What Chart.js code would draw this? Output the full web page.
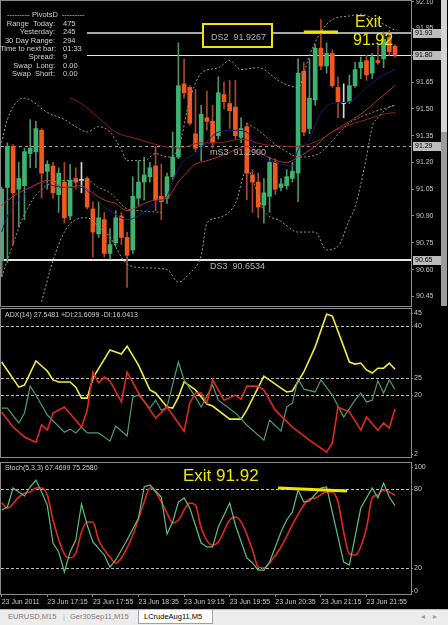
<!DOCTYPE html>
<html>
<head>
<meta charset="utf-8">
<script src="https://cdn.jsdelivr.net/npm/chart.js@4.4.1/dist/chart.umd.min.js"></script>
<style>
  body { margin: 0; background: #000; width: 448px; height: 625px; overflow: hidden; position: relative; font-family: "Liberation Sans", Arial, sans-serif; }
  canvas { position: absolute; left: 0; }
  .t { position: absolute; white-space: nowrap; color: #d2d2d2; font-size: 7.5px; line-height: 9px; }
  .lbl { position: absolute; white-space: nowrap; color: #b4b4b4; font-size: 9px; line-height: 11px; }
  .exit { position: absolute; white-space: nowrap; color: #f0e600; font-size: 16px; line-height: 18px; }
  .tab { position: absolute; top: 610px; font-size: 7.5px; line-height: 13px; color: #7a7a7a; white-space: nowrap; }
</style>
</head>
<body>
<canvas id="main" width="448" height="307" style="top:0"></canvas>
<canvas id="adx" width="448" height="151" style="top:307px"></canvas>
<canvas id="stoch" width="448" height="150" style="top:459px"></canvas>

<!-- scroll strip next to the price scale -->
<div style="position:absolute;left:441px;top:0;width:6px;height:306px;background:#9c9c9c"></div>
<div style="position:absolute;left:441px;top:0;width:6px;height:132px;background:#d4d4d4"></div>

<!-- PivotsD info block -->
<div style="position:absolute;left:1px;top:1px;width:86px;height:80px;background:#000"></div>
<div class="t" style="left:7px;top:10px">---------</div>
<div class="t" style="left:32px;top:10px">PivotsD</div>
<div class="t" style="left:62px;top:10px">---------</div>
<div class="t" style="left:0;width:55px;text-align:right;top:19px">Range&nbsp; Today:</div>
<div class="t" style="left:63px;top:19px">475</div>
<div class="t" style="left:0;width:55px;text-align:right;top:27px">Yesterday:</div>
<div class="t" style="left:63px;top:27px">245</div>
<div class="t" style="left:0;width:55px;text-align:right;top:36px">30 Day Range:</div>
<div class="t" style="left:63px;top:36px">294</div>
<div class="t" style="left:0;width:55px;text-align:right;top:44px">Time to next bar:</div>
<div class="t" style="left:63px;top:44px">01:33</div>
<div class="t" style="left:0;width:55px;text-align:right;top:52px">Spread:</div>
<div class="t" style="left:63px;top:52px">9</div>
<div class="t" style="left:0;width:55px;text-align:right;top:61px">Swap&nbsp; Long:</div>
<div class="t" style="left:63px;top:61px">0.00</div>
<div class="t" style="left:0;width:55px;text-align:right;top:69px">Swap&nbsp; Short:</div>
<div class="t" style="left:63px;top:69px">0.00</div>

<!-- pivot labels -->
<div style="position:absolute;left:202px;top:23px;width:71px;height:25px;box-sizing:border-box;border:2px solid #f0e600;background:#000"></div>
<div class="lbl" style="left:211px;top:32px">DS2&nbsp; 91.9267</div>
<div class="lbl" style="left:210px;top:147px">mS3&nbsp; 91.2900</div>
<div class="lbl" style="left:210px;top:261px">DS3&nbsp; 90.6534</div>

<div class="exit" style="left:355px;top:13px">Exit</div>
<div class="exit" style="left:353px;top:31px">91.92</div>

<div class="t" style="left:5px;top:310px;font-size:7px;color:#cfcfcf">ADX(14) 27.5481 +DI:21.6099 -DI:16.0413</div>
<div class="t" style="left:5px;top:463px;font-size:7px;color:#cfcfcf">Stoch(5,3,3) 67.4699 75.2580</div>
<div class="exit" style="left:183px;top:466px;font-size:17px;line-height:19px">Exit 91.92</div>

<!-- symbol tabs -->
<div style="position:absolute;left:0;top:609px;width:448px;height:16px;background:#ececec;border-top:1px solid #b8b8b8"></div>
<div class="tab" style="left:8px">EURUSD,M15</div>
<div class="tab" style="left:63px;color:#b0b0b0">|</div>
<div class="tab" style="left:70px">Ger30Sep11,M15</div>
<div style="position:absolute;left:138px;top:610px;width:75px;height:14px;background:#fff;border:1px solid #a0a0a0;border-top:none;box-sizing:border-box"></div>
<div class="tab" style="left:144px;color:#000">LCrudeAug11,M5</div>
<div class="tab" style="left:421px;color:#9a9a9a">&#9666;</div>
<div class="tab" style="left:433px;color:#9a9a9a">&#9656;</div>

<script>
// ---- price bars (M5, 16:35 .. 22:20) ----
const opens = [90.65,91.06,91.29,91.05,91.07,91.25,91.26,91.38,91.15,91.18, 91.02,91.09,90.90,91.11,91.10,91.11,90.94,90.80,90.88,90.69,
  90.75,90.90,90.78,90.71,91.00,91.09,91.12,91.18,91.01,91.00, 91.12,91.23,91.64,91.62,91.36,91.30,91.45,91.43,91.35,91.58,
  91.53,91.51,91.34,91.40,91.13,91.09,90.96,91.01,91.20,91.06, 91.07,91.11,91.14,91.71,91.39,91.55,91.84,91.74,91.81,91.62,
  91.53,91.54,91.63,91.73,91.77,91.70,91.77,91.78,91.90,91.85];
const highs = [91.06,91.31,91.30,91.20,91.28,91.44,91.43,91.39,91.21,91.20, 91.17,91.20,91.19,91.17,91.20,91.12,90.98,90.98,90.92,90.83,
  90.93,90.92,90.81,91.12,91.21,91.23,91.20,91.29,91.19,91.14, 91.37,91.87,91.78,91.63,91.61,91.52,91.60,91.52,91.68,91.65,
  91.66,91.66,91.45,91.42,91.16,91.14,91.11,91.23,91.22,91.11, 91.16,91.20,91.78,91.76,91.78,91.86,92.00,91.87,91.83,91.68,
  91.64,91.69,91.76,91.79,91.80,91.81,91.86,91.93,91.94,91.86];
const lows = [90.56,90.64,90.74,90.84,90.88,91.17,91.17,91.00,91.05,91.00, 90.92,90.86,90.88,91.05,91.03,90.94,90.67,90.78,90.67,90.66,
  90.73,90.74,90.50,90.69,90.96,90.99,91.09,90.93,90.88,90.97, 91.10,91.22,91.56,91.41,91.26,91.21,91.38,91.28,91.33,91.50,
  91.39,91.33,91.31,90.99,90.92,90.89,90.86,90.92,91.02,91.04, 91.05,91.09,90.98,91.35,91.36,91.52,91.72,91.70,91.62,91.45,
  91.45,91.53,91.62,91.67,91.66,91.67,91.75,91.73,91.80,91.79];
const closes = [91.05,91.29,91.03,91.11,91.26,91.28,91.39,91.14,91.19,91.03, 91.14,90.89,91.10,91.09,91.10,90.95,90.81,90.89,90.69,90.74,
  90.89,90.78,90.68,91.01,91.09,91.13,91.17,90.99,90.98,91.12, 91.23,91.63,91.59,91.42,91.28,91.47,91.43,91.31,91.59,91.54,
  91.49,91.35,91.39,91.14,91.09,90.95,91.03,91.20,91.05,91.08, 91.12,91.15,91.70,91.37,91.56,91.84,91.74,91.81,91.63,91.54,
  91.53,91.63,91.72,91.76,91.69,91.79,91.76,91.89,91.82,91.80];

// ---- moving averages / bands (bar index, price) ----
const fastMaBars = [0,1,3,5,7,9,11,14,16,18,19,22,25,27,29,30,32,34,35,38,41,43,45,48,51,52,54,56,58,61,64,67,69];
const fastMaVals = [90.81,90.90,90.99,91.05,91.09,91.07,91.06,91.06,91.01,90.95,90.93,90.88,90.92,90.98,91.01,91.10,91.21,91.25,91.28,91.37,
  91.38,91.37,91.25,91.20,91.18,91.27,91.33,91.48,91.53,91.54,91.62,91.69,91.72];
const midMaBars = [0,2,5,7,8,11,14,15,18,20,22,25,27,29,31,33,34,36,38,41,43,46,50,52,55,57,60,63,66,69];
const midMaVals = [90.96,91.01,91.06,91.09,91.10,91.06,91.07,91.05,90.99,90.97,90.93,90.97,90.99,91.00,91.09,91.16,91.19,91.21,91.23,91.27,
  91.29,91.24,91.20,91.23,91.29,91.35,91.41,91.47,91.55,91.63];
const slowMaBars = [12,14,17,20,24,27,31,35,38,42,46,52,56,58,61,64,67,69];
const slowMaVals = [91.56,91.53,91.45,91.37,91.33,91.30,91.28,91.31,91.31,91.33,91.30,91.29,91.33,91.37,91.41,91.44,91.47,91.48];
const upperBandBars = [0,1,3,4,5,8,11,13,15,17,19,21,22,25,27,29,31,33,35,38,40,42,45,49,52,54,56,58,61,63,66,69];
const upperBandVals = [91.31,91.44,91.55,91.56,91.55,91.48,91.44,91.40,91.37,91.40,91.37,91.27,91.21,91.21,91.25,91.23,91.28,91.55,91.70,91.73,
  91.77,91.72,91.73,91.65,91.62,91.80,91.93,92.00,92.02,92.03,91.99,91.94];
const lowerBandBars = [7,9,11,13,15,17,19,22,25,29,31,33,35,36,38,41,43,46,49,52,55,57,59,61,62,64,65,66,68,69];
const lowerBandVals = [90.42,90.65,90.81,90.88,90.89,90.84,90.78,90.63,90.61,90.60,90.53,90.58,90.68,90.86,90.89,90.97,91.16,90.93,90.87,90.81,
  90.81,90.71,90.73,90.88,90.95,91.23,91.40,91.45,91.51,91.52];
const innerBandBars = [0,4,7,12,15,17,19,22,24,28,29,43,45,48,50,52,55,61,65,69];
const innerBandVals = [90.56,90.91,91.05,91.10,91.10,91.06,91.03,90.94,90.93,90.92,null,91.42,91.38,91.30,91.26,91.23,91.24,91.42,91.48,91.52];

// pivot / price levels
const levelPrices = [91.9267, 91.80, 91.29, 90.6534];
const priceTicks = [92.10, 91.95, 91.80, 91.65, 91.50, 91.35, 91.20, 91.05, 90.90, 90.75, 90.60, 90.45];

// ---- ADX(14) ----
const adxBars = [0,3,4,6,8,9,10,12,13,14,15,16,19,21,22,24,26,27,29,30,31,32,34,36,37,40,42,43,46,49,50,51,53,55,57,58,61,62,63,64,65,66,67,68,69];
const adxVals = [29.6,22.3,22.9,29.9,27.0,24.4,23.8,23.8,22.3,19.1,19.1,24.9,33.1,31.9,34.2,28.7,21.5,20.6,16.5,16.2,
  19.4,23.8,21.5,17.4,16.8,13.0,13.0,15.6,25.5,22.0,20.9,21.2,26.7,34.0,43.5,43.0,29.6,29.0,29.3,27.3,26.4,27.8,27.8,29.3,27.5];
const plusDiBars = [0,1,3,4,5,6,8,11,12,13,14,15,17,19,20,22,23,24,26,27,28,29,31,32,34,35,37,38,41,43,46,47,49,50,51,52,53,55,56,58,60,62,63,64,65,66,67,68,69];
const plusDiVals = [16.2,16.2,11.9,14.8,22.6,20.0,14.2,9.2,10.1,9.0,10.7,9.0,9.0,6.6,11.0,8.1,19.4,20.0,16.2,18.5,
  15.6,16.5,29.6,24.4,19.4,16.5,22.9,18.5,14.8,11.3,6.9,12.7,9.5,16.5,17.7,24.7,21.7,20.9,24.4,20.0,13.6,18.5,20.6,18.0,18.5,24.1,20.6,24.4,21.6];
const minusDiBars = [0,2,4,6,7,8,9,11,13,14,15,16,17,18,19,21,22,24,27,29,32,33,34,35,36,37,39,41,42,43,45,46,48,51,54,57,58,59,61,63,64,66,67,68,69];
const minusDiVals = [15.1,10.7,7.8,6.3,11.3,9.8,14.8,16.5,12.7,10.7,15.6,26.7,23.5,25.2,24.1,18.0,26.7,20.6,13.3,16.5,
  9.5,17.7,20.6,20.6,17.7,24.4,18.5,20.0,18.8,22.6,22.6,21.5,15.6,10.7,6.9,3.4,6.0,16.5,15.1,9.8,13.6,9.8,11.9,10.4,16.0];
const adxTicks = [45, 40, 25, 20, 2];
const adxLevels = [40, 25, 20];

// ---- Stochastic(5,3,3) ----
const stochKBars = [0,1,2,3,4,5,6,7,8,9,10,11,12,13,14,15,16,18,19,20,22,24,25,26,28,29,30,31,32,33,35,36,37,38,40,41,43,44,45,46,47,49,50,51,52,53,54,56,57,58,60,61,63,65,66,67,68,69];
const stochKVals = [64.1,66.4,80.9,77.9,74.8,81.7,87.0,77.9,67.9,38.9,32.1,16.8,32.1,41.2,68.7,52.7,39.7,
  29.8,20.6,26.0,41.2,58.0,81.7,83.2,74.0,45.8,55.0,70.2,73.3,65.6,38.9,35.9,35.9,51.1,69.5,52.7,27.5,
  23.7,18.3,18.3,24.4,47.3,56.5,62.6,79.4,70.2,71.0,80.9,81.7,62.6,24.4,22.1,65.6,80.9,73.3,84.7,74.0,67.5];
const stochDBars = [0,1,3,4,5,6,7,8,9,11,12,13,14,15,16,17,19,20,21,23,25,26,27,29,30,31,33,34,35,37,38,40,41,42,44,45,46,47,49,51,53,54,55,57,58,59,60,61,62,64,65,66,67,69];
const stochDVals = [69.5,65.6,74.0,77.1,77.9,80.9,80.9,75.6,56.5,30.5,27.5,31.3,47.3,55.0,55.0,41.2,28.2,23.7,27.5,45.0,
  70.2,80.9,77.9,61.8,54.2,56.5,69.5,67.9,50.4,37.4,39.7,56.5,58.8,55.0,33.6,20.6,19.8,23.7,35.9,52.7,
  67.9,72.5,73.3,77.9,77.9,70.2,47.3,30.5,29.8,50.4,73.3,75.6,79.4,75.3];
const stochTicks = [100, 80, 20, 0];
const stochLevels = [80, 20];

// hand-drawn exit marks (bar index, value)
const exitMainBars = [53, 59];
const exitMainVals = [91.93, 91.93];
const exitStochBars = [48.5, 60.6];
const exitStochVals = [80.9, 78.6];

const timeTickBars = [0, 8, 16, 24, 32, 40, 48, 56, 64];
const timeTickLabels = ['23 Jun 2011', '23 Jun 17:15', '23 Jun 17:55', '23 Jun 18:35', '23 Jun 19:15',
  '23 Jun 19:55', '23 Jun 20:35', '23 Jun 21:15', '23 Jun 21:55'];

Chart.defaults.font.family = '"Liberation Sans", Arial, sans-serif';
Chart.defaults.font.size = 7;
Chart.defaults.color = '#c8c8c8';

const YELLOW = '#f0e600';
const pts = (xs, ys) => xs.map((x, i) => ({ x: x, y: ys[i] }));
const X_MIN = -0.12, X_MAX = 71.81;

// draws frame, level lines, right-side labels and the yellow exit marks
const panelPlugin = {
  id: 'panel',
  beforeDatasetsDraw(chart, args, o) {
    const { ctx, chartArea: a } = chart;
    const y = chart.scales.y;
    (o.levels || []).forEach(l => {
      const py = Math.round(y.getPixelForValue(l.v)) + (l.w === 2 ? 0 : 0.5);
      ctx.save();
      ctx.strokeStyle = l.c;
      ctx.lineWidth = l.w;
      ctx.setLineDash(l.d || []);
      ctx.beginPath();
      ctx.moveTo(a.left, py);
      ctx.lineTo(a.right, py);
      ctx.stroke();
      ctx.restore();
    });
  },
  afterDraw(chart, args, o) {
    const { ctx, chartArea: a } = chart;
    const x = chart.scales.x, y = chart.scales.y;
    ctx.save();
    ctx.strokeStyle = '#8a8a8a';
    ctx.lineWidth = 1;
    ctx.strokeRect(a.left - 0.5, a.top - 0.5, a.right - a.left + 1, a.bottom - a.top + 1);

    if (o.seg) {
      ctx.strokeStyle = YELLOW;
      ctx.lineWidth = 3;
      ctx.beginPath();
      ctx.moveTo(x.getPixelForValue(o.seg.x[0]), y.getPixelForValue(o.seg.y[0]));
      ctx.lineTo(x.getPixelForValue(o.seg.x[1]), y.getPixelForValue(o.seg.y[1]));
      ctx.stroke();
    }

    ctx.font = '7px "Liberation Sans", Arial, sans-serif';
    ctx.textBaseline = 'middle';
    (o.axisLabels || []).forEach(v => {
      let py = y.getPixelForValue(v);
      py = Math.min(Math.max(py, a.top + 4), a.bottom - 3);
      ctx.fillStyle = '#8a8a8a';
      ctx.fillRect(a.right, Math.round(py), 2, 1);
      ctx.fillStyle = '#c8c8c8';
      ctx.fillText(String(v), a.right + 3, py);
    });

    (o.tags || []).forEach(v => {
      const py = y.getPixelForValue(v);
      ctx.fillStyle = '#bcbcbc';
      ctx.fillRect(a.right + 2, Math.round(py) - 4, 30, 9);
      ctx.fillStyle = '#000';
      ctx.fillText(v.toFixed(2), a.right + 4, Math.round(py) + 0.5);
    });
    ctx.restore();
  }
};

const lineDs = (data, color, extra) => Object.assign({
  type: 'line', data: data, borderColor: color, borderWidth: 1, pointRadius: 0,
  fill: false, cubicInterpolationMode: 'monotone', order: 0
}, extra || {});

const xHidden = { type: 'linear', min: X_MIN, max: X_MAX, offset: false, display: false };
const yPanel = (min, max) => ({
  position: 'right', min: min, max: max,
  ticks: { display: false }, grid: { display: false },
  border: { color: '#8a8a8a' },
  afterFit: s => { s.width = 37; s.paddingTop = 0; s.paddingBottom = 0; }
});
const baseOpts = {
  responsive: false, animation: false, devicePixelRatio: 1,
  events: []
};

// ---- main price chart ----
const bodyColor = closes.map((c, i) => c > opens[i] ? '#3cb371' : c < opens[i] ? '#f2581d' : '#d8d8d8');
const wickColor = closes.map((c, i) => c > opens[i] ? '#4a9468' : c < opens[i] ? '#a8472a' : '#d8d8d8');

new Chart(document.getElementById('main'), {
  type: 'bar',
  data: {
    datasets: [
      lineDs(pts(upperBandBars, upperBandVals), '#9a9a9a', { borderDash: [2, 2] }),
      lineDs(pts(lowerBandBars, lowerBandVals), '#9a9a9a', { borderDash: [2, 2] }),
      lineDs(pts(innerBandBars, innerBandVals), '#8c8c8c', { borderDash: [2, 2], spanGaps: false }),
      lineDs(pts(slowMaBars, slowMaVals), '#8e2020'),
      lineDs(pts(midMaBars, midMaVals), '#b83030'),
      lineDs(pts(fastMaBars, fastMaVals), '#1c1c78'),
      { data: opens.map((o, i) => ({ x: i, y: [lows[i], highs[i]] })), backgroundColor: wickColor,
        barThickness: 1, grouped: false, order: 3 },
      { data: opens.map((o, i) => ({ x: i, y: [o, closes[i]] })), backgroundColor: bodyColor,
        barThickness: 4, grouped: false, minBarLength: 1, order: 2 }
    ]
  },
  options: Object.assign({}, baseOpts, {
    layout: { padding: { left: 1, top: 1, bottom: 1, right: 0 } },
    plugins: {
      legend: { display: false }, tooltip: { enabled: false },
      panel: {
        levels: [
          { v: levelPrices[0], c: '#a8a8a8', w: 2 },
          { v: levelPrices[1], c: '#e6e6e6', w: 1 },
          { v: levelPrices[2], c: '#a0a0a0', w: 1, d: [3, 3] },
          { v: levelPrices[3], c: '#e6e6e6', w: 2 }
        ],
        tags: levelPrices,
        seg: { x: exitMainBars, y: exitMainVals }
      }
    },
    scales: {
      x: xHidden,
      y: {
        position: 'right', min: 90.396, max: 92.104,
        afterBuildTicks: s => { s.ticks = priceTicks.map(v => ({ value: v })); },
        afterFit: s => { s.width = 37; s.paddingTop = 0; s.paddingBottom = 0; },
        ticks: { autoSkip: false, color: '#c8c8c8', padding: 2, callback: v => Number(v).toFixed(2) },
        grid: { drawOnChartArea: false, tickLength: 3, tickColor: '#8a8a8a' },
        border: { color: '#8a8a8a' }
      }
    }
  }),
  plugins: [panelPlugin]
});

// ---- ADX panel ----
new Chart(document.getElementById('adx'), {
  type: 'line',
  data: {
    datasets: [
      lineDs(pts(minusDiBars, minusDiVals), '#e02a1e', { borderWidth: 1.6, cubicInterpolationMode: 'default', tension: 0 }),
      lineDs(pts(plusDiBars, plusDiVals), '#4f9a6e', { borderWidth: 1.2, cubicInterpolationMode: 'default', tension: 0 }),
      lineDs(pts(adxBars, adxVals), '#f2ec3a', { borderWidth: 1.6, cubicInterpolationMode: 'default', tension: 0 })
    ]
  },
  options: Object.assign({}, baseOpts, {
    layout: { padding: { left: 1, top: 2, bottom: 1, right: 0 } },
    plugins: {
      legend: { display: false }, tooltip: { enabled: false },
      panel: {
        levels: adxLevels.map(v => ({ v: v, c: '#bdbdbd', w: 1, d: [3, 2] })),
        axisLabels: adxTicks
      }
    },
    scales: { x: xHidden, y: yPanel(2, 45) }
  }),
  plugins: [panelPlugin]
});

// ---- Stochastic panel with time axis ----
new Chart(document.getElementById('stoch'), {
  type: 'line',
  data: {
    datasets: [
      lineDs(pts(stochKBars, stochKVals), '#5fbf86', { borderWidth: 1.2, cubicInterpolationMode: 'default', tension: 0 }),
      lineDs(pts(stochDBars, stochDVals), '#e02a1e', { borderWidth: 1.6 })
    ]
  },
  options: Object.assign({}, baseOpts, {
    layout: { padding: { left: 1, top: 4, bottom: 0, right: 0 } },
    plugins: {
      legend: { display: false }, tooltip: { enabled: false },
      panel: {
        levels: stochLevels.map(v => ({ v: v, c: '#bdbdbd', w: 1, d: [3, 2] })),
        axisLabels: stochTicks,
        seg: { x: exitStochBars, y: exitStochVals }
      }
    },
    scales: {
      x: {
        type: 'linear', min: X_MIN, max: X_MAX, offset: false, position: 'bottom',
        afterBuildTicks: s => { s.ticks = timeTickBars.map(v => ({ value: v })); },
        afterFit: s => { s.height = 15; s.paddingLeft = 0; s.paddingRight = 0; },
        ticks: { autoSkip: false, maxRotation: 0, minRotation: 0, align: 'start', color: '#c8c8c8', padding: 1,
                 callback: (v, i) => timeTickLabels[i] },
        grid: { drawOnChartArea: false, tickLength: 3, tickColor: '#8a8a8a' },
        border: { color: '#8a8a8a' }
      },
      y: yPanel(0, 100)
    }
  }),
  plugins: [panelPlugin]
});
</script>
</body>
</html>
